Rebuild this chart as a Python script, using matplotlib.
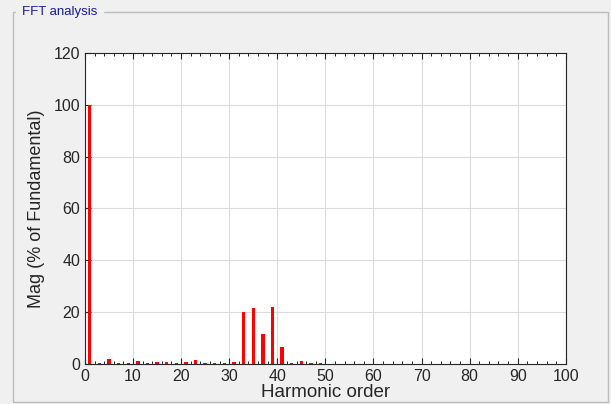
import matplotlib.pyplot as plt
from matplotlib.patches import Rectangle

plt.rcParams['font.family'] = ['Liberation Sans', 'DejaVu Sans']

# harmonic orders and magnitudes (% of fundamental)
orders = [1, 3, 5, 7, 9, 11, 13, 15, 17, 19, 21, 23, 25,
          27, 29, 31, 33, 35, 37, 39, 41, 43, 45, 47, 49]
mags = [100, 0.5, 2.0, 0.5, 0.5, 1.0, 0.5, 0.8, 0.8, 0.5, 0.8, 1.6, 0.5,
        0.5, 0.5, 0.8, 20, 21.5, 11.5, 22, 6.5, 0.4, 1.2, 0.5, 0.5]

fig = plt.figure(figsize=(6.11, 4.04), dpi=100, facecolor='#f0f0f0')
ax = fig.add_axes([0.139, 0.099, 0.787, 0.770])

# group box frame
fig.patches.append(Rectangle((13 / 611, 2 / 404), 595 / 611, 390 / 404,
                             transform=fig.transFigure, fill=False,
                             edgecolor='#bcbcbc', linewidth=1))
fig.text(22 / 611, 1 - 12 / 404, 'FFT analysis', color='#1a1aa0', fontsize=9.5,
         va='center', ha='left', backgroundcolor='#f0f0f0')

ax.bar(orders, mags, width=0.7, color='red', zorder=3)

ax.set_xlim(0, 100)
ax.set_ylim(0, 120)
ax.set_xticks(range(0, 101, 10))
ax.set_yticks(range(0, 121, 20))
ax.set_xticks(range(0, 101, 2), minor=True)
ax.grid(True, color='#dcdcdc', linewidth=0.8, zorder=0)
ax.tick_params(direction='in', top=True, right=False, labelsize=11.5,
               colors='#262626', length=4)
ax.tick_params(which='minor', direction='in', top=True, length=2.5)
for s in ax.spines.values():
    s.set_color('#262626')

ax.set_xlabel('Harmonic order', fontsize=13.5, labelpad=0, color='#262626')
ax.set_ylabel('Mag (% of Fundamental)', fontsize=13, labelpad=6, color='#262626')

fig.savefig('out.png', dpi=100, facecolor=fig.get_facecolor())
